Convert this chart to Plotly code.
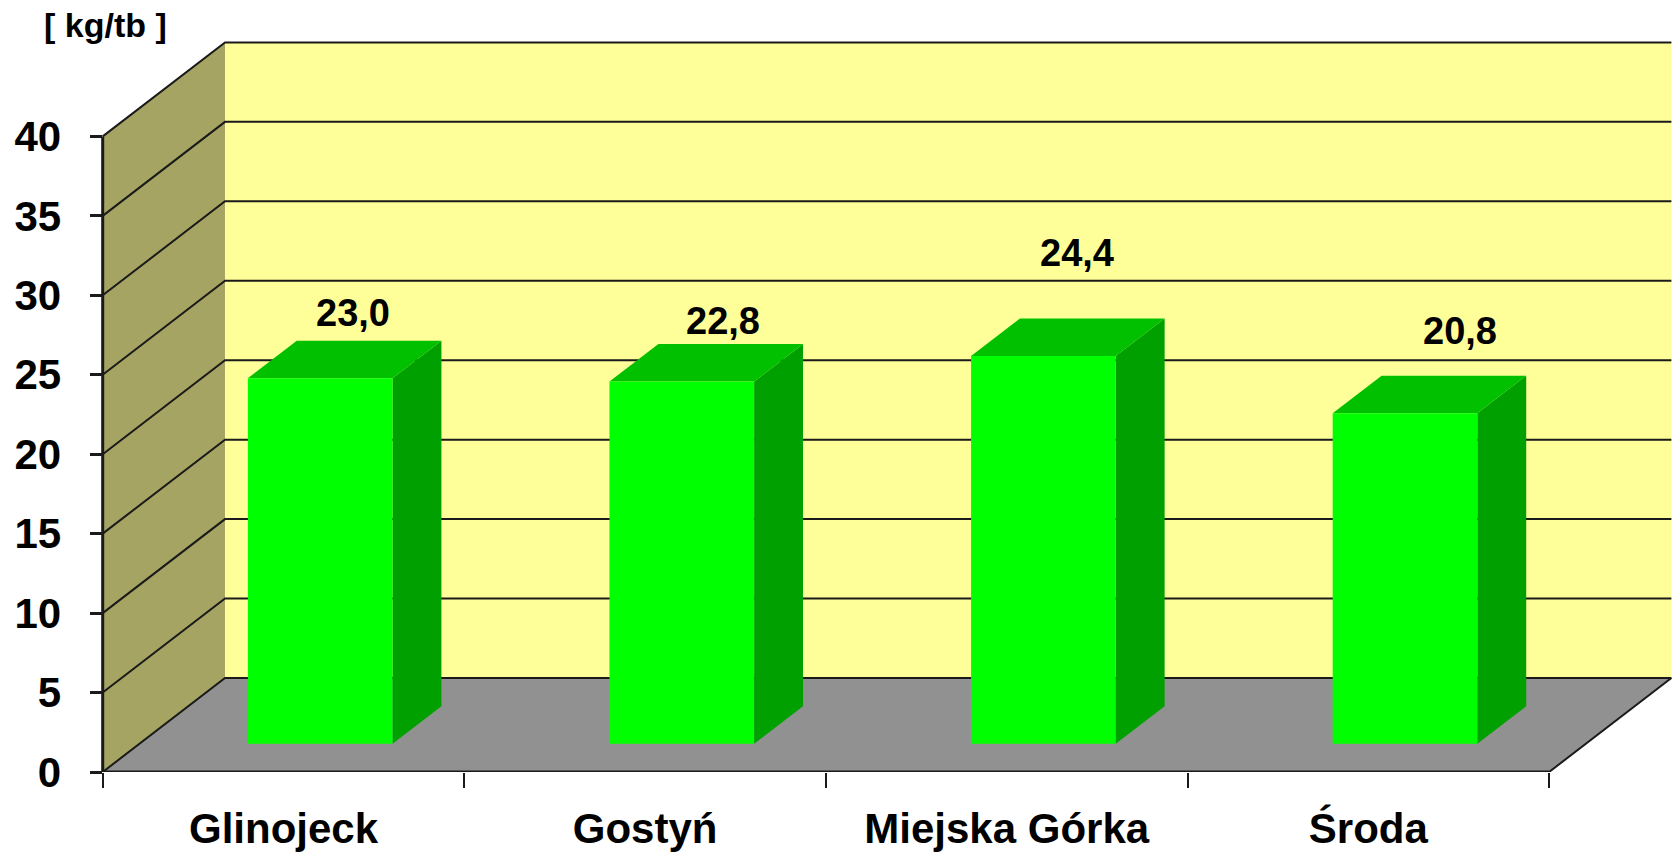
import plotly.graph_objects as go

# ---- data ----
categories = ["Glinojeck", "Gostyń", "Miejska Górka", "Środa"]
values = [23.0, 22.8, 24.4, 20.8]
y_ticks = [0, 5, 10, 15, 20, 25, 30, 35, 40]
unit_label = "[ kg/tb ]"

# ---- style / 3D projection parameters ----
DX = 0.3382      # depth offset in x units (oblique projection)
DY = 5.916       # depth offset in y units
F_D, B_D = 0.30, 0.70   # bar front/back depth fraction
BAR_W = 0.40            # bar width fraction of category
YMAX = 40
N = len(categories)
label_shift = [(8, 47), (17, 42), (9, 84), (31, 63)]  # manual label offsets (px)

C_BACK = "#FFFF99"
C_SIDE = "#A6A462"
C_FLOOR = "#919191"
C_FRONT = "#00FF00"
C_BSIDE = "#00A000"
C_TOP = "#00C000"
C_LINE = "#1a1a1a"

FONT = "Liberation Sans, Arial, sans-serif"

fig = go.Figure()

def poly(xs, ys, color, name, xa="x", ya="y"):
    fig.add_trace(go.Scatter(x=xs, y=ys, mode="lines", fill="toself", fillcolor=color,
                             line=dict(width=0, color=color), hoverinfo="skip",
                             showlegend=False, name=name, xaxis=xa, yaxis=ya))

# walls and floor
poly([0, DX, DX, 0, 0], [0, DY, YMAX + DY, YMAX, 0], C_SIDE, "side wall")
poly([DX, N + DX, N + DX, DX, DX], [DY, DY, YMAX + DY, YMAX + DY, DY], C_BACK, "back wall")
poly([0, N, N + DX, DX, 0], [0, 0, DY, DY, 0], C_FLOOR, "floor")

# gridlines: back wall horizontals + side wall diagonals
gx, gy = [], []
for v in y_ticks:
    gx += [0, DX, N + DX, None]
    gy += [v, v + DY, v + DY, None]
fig.add_trace(go.Scatter(x=gx, y=gy, mode="lines", line=dict(color=C_LINE, width=2),
                         hoverinfo="skip", showlegend=False))
# floor right edge
fig.add_trace(go.Scatter(x=[N, N + DX], y=[0, DY], mode="lines",
                         line=dict(color=C_LINE, width=2), hoverinfo="skip", showlegend=False))
# front floor edge and y axis line
fig.add_trace(go.Scatter(x=[0, N], y=[0, 0], mode="lines",
                         line=dict(color=C_LINE, width=3), hoverinfo="skip", showlegend=False))
fig.add_trace(go.Scatter(x=[0, 0], y=[0, YMAX], mode="lines",
                         line=dict(color=C_LINE, width=3), hoverinfo="skip", showlegend=False))

# bars (drawn on an overlaid subplot so they sit above all wall gridlines)
fx, fy, sx, sy, tx, ty = [], [], [], [], [], []
for i, v in enumerate(values):
    x0 = i + 0.5 - BAR_W / 2
    x1 = i + 0.5 + BAR_W / 2
    fo_x, fo_y = F_D * DX, F_D * DY
    bo_x, bo_y = B_D * DX, B_D * DY
    fx += [x0 + fo_x, x1 + fo_x, x1 + fo_x, x0 + fo_x, x0 + fo_x, None]
    fy += [fo_y, fo_y, v + fo_y, v + fo_y, fo_y, None]
    sx += [x1 + fo_x, x1 + bo_x, x1 + bo_x, x1 + fo_x, x1 + fo_x, None]
    sy += [fo_y, bo_y, v + bo_y, v + fo_y, fo_y, None]
    tx += [x0 + fo_x, x1 + fo_x, x1 + bo_x, x0 + bo_x, x0 + fo_x, None]
    ty += [v + fo_y, v + fo_y, v + bo_y, v + bo_y, v + fo_y, None]
poly(sx, sy, C_BSIDE, "bar side", "x2", "y2")
poly(tx, ty, C_TOP, "bar top", "x2", "y2")
poly(fx, fy, C_FRONT, "bar front", "x2", "y2")

# data labels
for i, v in enumerate(values):
    xs, ys = label_shift[i]
    fig.add_annotation(x=i + 0.5 + 0.5 * DX, y=v + 0.5 * DY,
                       text=f"{v:.1f}".replace(".", ","), showarrow=False,
                       xshift=xs, yshift=ys,
                       font=dict(family=FONT, size=38, color="black", weight="bold"))

# unit label
fig.add_annotation(xref="paper", yref="paper", x=0.0101, y=0.967,
                   text=unit_label, showarrow=False, xanchor="center", yanchor="middle",
                   font=dict(family=FONT, size=34, color="black", weight="bold"))

L, B_M, T = 90, 82, 0
W, H = 1672, 854
PXU_X = 361.6
PXU_Y = 15.89
x_lo = -(102.7 - L) / PXU_X
x_hi = x_lo + (W - L) / PXU_X
y_hi = (H - B_M - T) / PXU_Y

fig.update_layout(
    width=W, height=H,
    margin=dict(l=L, r=0, t=T, b=B_M, pad=0),
    plot_bgcolor="white", paper_bgcolor="white",
    showlegend=False,
    xaxis=dict(range=[x_lo, x_hi], showgrid=False, zeroline=False, showline=False,
               tickmode="array", tickvals=[i + 0.5 for i in range(N)], ticktext=categories,
               ticks="", ticklabelstandoff=28,
               tickfont=dict(family=FONT, size=42, color="black", weight="bold"),
               minor=dict(tickmode="array", tickvals=list(range(N + 1)), ticks="outside",
                          ticklen=15, tickwidth=2, tickcolor=C_LINE, showgrid=False),
               fixedrange=True),
    yaxis=dict(range=[0, y_hi], showgrid=False, zeroline=False, showline=False,
               anchor="free", position=(101.5 - L) / (W - L),
               tickmode="array", tickvals=y_ticks, ticktext=[str(t) for t in y_ticks],
               ticks="outside", ticklen=12, tickwidth=3, tickcolor=C_LINE,
               ticklabelstandoff=20,
               tickfont=dict(family=FONT, size=42, color="black", weight="bold"),
               fixedrange=True),
    xaxis2=dict(range=[x_lo, x_hi], overlaying="x", visible=False, fixedrange=True),
    yaxis2=dict(range=[0, y_hi], overlaying="y", visible=False, fixedrange=True,
                anchor="x2"),
)

fig.write_html("out.html", config={"displayModeBar": False},
               post_script="document.body.style.margin='0';document.body.style.overflow='hidden';")
